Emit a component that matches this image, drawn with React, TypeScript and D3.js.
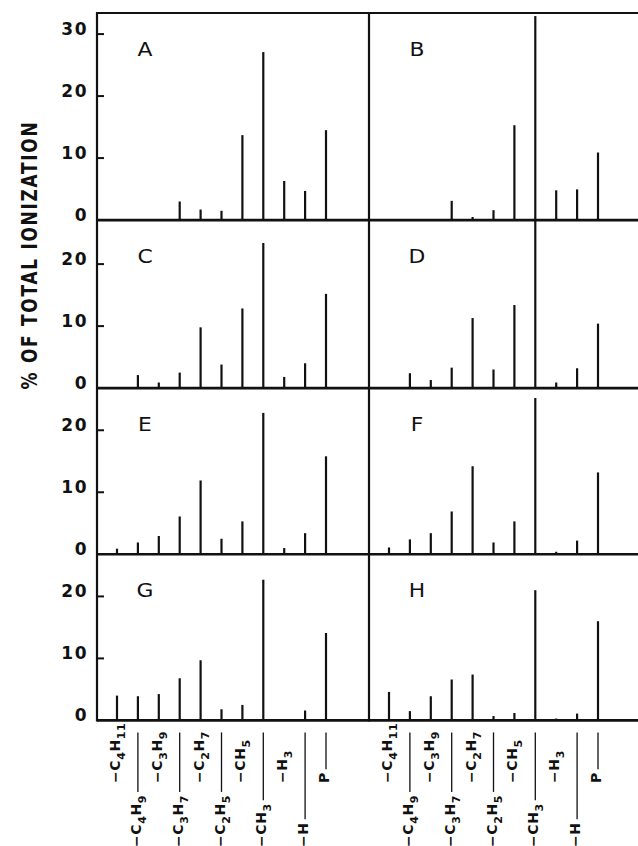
import React, { useEffect, useRef } from "react";
import * as d3 from "d3";

const categories = ["-C4H11", "-C4H9", "-C3H9", "-C3H7", "-C2H7", "-C2H5", "-CH5", "-CH3", "-H3", "-H", "P"];
const panelLetters = ["A", "B", "C", "D", "E", "F", "G", "H"];

const panelA = [0, 0, 0, 3.0, 1.7, 1.5, 13.7, 27.1, 6.3, 4.7, 14.5];
const panelB = [0, 0, 0, 3.1, 0.5, 1.6, 15.3, 32.9, 4.8, 4.95, 10.9];
const panelC = [0, 2.1, 0.9, 2.5, 9.8, 3.8, 12.85, 23.4, 1.8, 4.0, 15.2];
const panelD = [0, 2.4, 1.3, 3.3, 11.3, 3.0, 13.4, 28.0, 0.9, 3.2, 10.4];
const panelE = [0.9, 1.9, 2.95, 6.1, 11.9, 2.5, 5.3, 22.8, 1.0, 3.4, 15.8];
const panelF = [1.1, 2.4, 3.4, 6.9, 14.2, 1.9, 5.3, 25.2, 0.4, 2.2, 13.2];
const panelG = [4.0, 3.9, 4.25, 6.8, 9.7, 1.8, 2.5, 22.7, 0, 1.6, 14.1];
const panelH = [4.6, 1.5, 3.9, 6.6, 7.4, 0.7, 1.2, 21.0, 0.3, 1.1, 16.0];

const rowMaxValues = [33.4, 27.1, 26.8, 26.8];
const rowTicks = [[0, 10, 20, 30], [0, 10, 20], [0, 10, 20], [0, 10, 20]];
const yTitle = "% OF TOTAL IONIZATION";

const panels = [panelA, panelB, panelC, panelD, panelE, panelF, panelG, panelH];

export default function App() {
  const ref = useRef<SVGSVGElement>(null);

  useEffect(() => {
    const svg = d3.select(ref.current);
    svg.selectAll("*").remove();

    const unit = 6.2;
    const frameLeft = 97;
    const frameRight = 638;
    const colW = 272;
    const colLeft = [frameLeft, frameLeft + colW];
    const rowTop: number[] = [];
    const rowBottom: number[] = [];
    let t = 13;
    rowMaxValues.forEach((m) => {
      rowTop.push(t);
      t = t + m * unit;
      rowBottom.push(t);
    });
    const bottomY = rowBottom[rowBottom.length - 1];

    const ink = "#111";
    const font = "'DejaVu Sans', sans-serif";

    const xScales = colLeft.map((cl) =>
      d3.scalePoint<string>().domain(categories).range([cl + 20, cl + 229])
    );
    const yScales = rowMaxValues.map((m, i) =>
      d3.scaleLinear().domain([0, m]).range([rowBottom[i], rowTop[i]])
    );

    // bars
    panels.forEach((vals, pi) => {
      const row = Math.floor(pi / 2);
      const col = pi % 2;
      const xs = xScales[col];
      const ys = yScales[row];
      const g = svg.append("g");
      g.selectAll("line")
        .data(vals.map((v, i) => ({ v, c: categories[i] })).filter((d) => d.v > 0))
        .enter()
        .append("line")
        .attr("x1", (d) => xs(d.c)!)
        .attr("x2", (d) => xs(d.c)!)
        .attr("y1", ys(0))
        .attr("y2", (d) => Math.max(ys(d.v), rowTop[row]))
        .attr("stroke", ink)
        .attr("stroke-width", 2.2);

      g.append("text")
        .attr("transform", `translate(${colLeft[col] + 48},${rowTop[row] + 43}) scale(1.15,1)`)
        .attr("text-anchor", "middle")
        .attr("font-family", font)
        .attr("font-size", 19)
        .attr("fill", ink)
        .text(panelLetters[pi]);
    });

    // frame
    const frame = svg.append("g").attr("stroke", ink).attr("fill", "none");
    frame.append("line").attr("x1", frameLeft).attr("x2", frameRight).attr("y1", rowTop[0]).attr("y2", rowTop[0]).attr("stroke-width", 2.2);
    rowBottom.forEach((b) => {
      frame.append("line").attr("x1", frameLeft).attr("x2", frameRight).attr("y1", b).attr("y2", b).attr("stroke-width", 2.6);
    });
    colLeft.forEach((cl) => {
      frame.append("line").attr("x1", cl).attr("x2", cl).attr("y1", rowTop[0] - 1).attr("y2", bottomY + 1).attr("stroke-width", 2.2);
    });

    // y axis ticks & labels (left column)
    rowTicks.forEach((ticks, r) => {
      const ys = yScales[r];
      ticks.forEach((tv) => {
        if (tv > 0) {
          svg.append("line")
            .attr("x1", frameLeft).attr("x2", frameLeft + 7)
            .attr("y1", ys(tv)).attr("y2", ys(tv))
            .attr("stroke", ink).attr("stroke-width", 2);
        }
        svg.append("text")
          .attr("x", 88)
          .attr("y", ys(tv) - 5)
          .attr("dominant-baseline", "central")
          .attr("text-anchor", "end")
          .attr("font-family", font)
          .attr("font-weight", "bold")
          .attr("font-size", 17)
          .attr("letter-spacing", 1.5)
          .attr("fill", ink)
          .text(String(tv));
      });
    });

    // y title
    svg.append("text")
      .attr("transform", `translate(37,255) rotate(-90) scale(1,1.2)`)
      .attr("text-anchor", "middle")
      .attr("font-family", font)
      .attr("font-weight", "bold")
      .attr("font-size", 17)
      .attr("letter-spacing", 1.7)
      .attr("fill", ink)
      .text(yTitle);

    // category labels
    const leaderTop = bottomY + 12;
    colLeft.forEach((cl, ci) => {
      const xs = xScales[ci];
      categories.forEach((c, i) => {
        const upper = i % 2 === 0;
        const x = xs(c)! + 3;
        const y0 = upper ? 783 : 847;
        const text = svg.append("text")
          .attr("transform", `translate(${x},${y0}) rotate(-90)`)
          .attr("font-family", font)
          .attr("font-weight", "bold")
          .attr("font-size", 14)
          .attr("letter-spacing", 0.6)
          .attr("fill", ink);
        const tokens = c.replace("-", "\u2212").match(/([^0-9]+)|([0-9]+)/g) || [];
        let shifted = false;
        tokens.forEach((tok) => {
          const isSub = /^[0-9]+$/.test(tok);
          const ts = text.append("tspan").text(tok);
          if (isSub) {
            ts.attr("font-size", 11).attr("dy", shifted ? 0 : 5);
            shifted = true;
          } else {
            ts.attr("dy", shifted ? -5 : 0);
            shifted = false;
          }
        });
        const len = (text.node() as SVGTextElement).getComputedTextLength();
        const textTop = y0 - len;
        if (!upper || c === "P") {
          svg.append("line")
            .attr("x1", xs(c)!).attr("x2", xs(c)!)
            .attr("y1", leaderTop).attr("y2", textTop - 3)
            .attr("stroke", ink).attr("stroke-width", 1.3);
        }
      });
    });
  }, []);

  return (
    <svg
      ref={ref}
      width={638}
      height={846}
      style={{ position: "absolute", left: 0, top: 0, background: "#fff" }}
    />
  );
}
